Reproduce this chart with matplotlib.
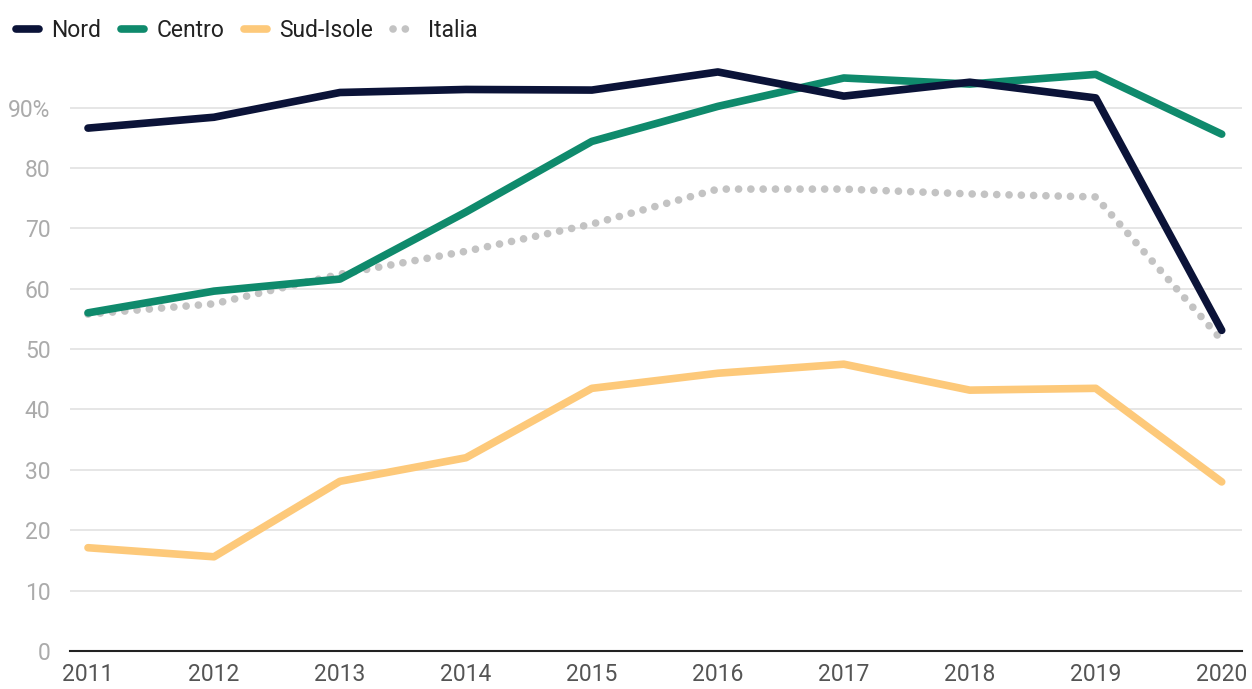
import matplotlib
matplotlib.use("Agg")
import matplotlib.pyplot as plt
from matplotlib.lines import Line2D

plt.rcParams['font.family'] = ['Roboto', 'DejaVu Sans']

years = [2011, 2012, 2013, 2014, 2015, 2016, 2017, 2018, 2019, 2020]
nord = [86.6, 88.4, 92.5, 93.0, 92.9, 95.9, 91.9, 94.2, 91.6, 53.1]
centro = [56.0, 59.6, 61.6, 72.7, 84.4, 90.2, 94.9, 93.9, 95.5, 85.6]
sud = [17.1, 15.6, 28.1, 32.0, 43.5, 46.0, 47.5, 43.2, 43.5, 28.0]
italia = [55.8, 57.5, 62.4, 66.2, 70.7, 76.5, 76.5, 75.7, 75.2, 51.5]
yticks = [0, 10, 20, 30, 40, 50, 60, 70, 80, 90]
ylabels = ['0', '10', '20', '30', '40', '50', '60', '70', '80', '90%']

c_nord = '#0b1338'
c_centro = '#0f8a6c'
c_sud = '#fdc97a'
c_it = '#c3c3c3'
dots = (0, (0.01, 1.6))

fig = plt.figure(figsize=(12.52, 6.89), dpi=100)
ax = fig.add_axes([0.0559, 0.0552, 0.936, 0.850])

ax.plot(years, italia, color=c_it, lw=5.5, linestyle=dots,
        dash_capstyle='round', zorder=2)
ax.plot(years, sud, color=c_sud, lw=5.5, solid_capstyle='round', solid_joinstyle='round', zorder=3)
ax.plot(years, centro, color=c_centro, lw=5.5, solid_capstyle='round', solid_joinstyle='round', zorder=4)
ax.plot(years, nord, color=c_nord, lw=5.5, solid_capstyle='round', solid_joinstyle='round', zorder=5)

ax.set_xlim(2010.857, 2020.16)
ax.set_ylim(0, 97)
ax.set_yticks(yticks)
ax.set_yticklabels(ylabels)
ax.set_xticks(years)
ax.set_xticklabels([str(y) for y in years])

for s in ['top', 'right', 'left']:
    ax.spines[s].set_visible(False)
ax.spines['bottom'].set_color('#222222')
ax.spines['bottom'].set_linewidth(1.5)
ax.grid(axis='y', color='#e2e2e2', lw=1.2, zorder=0)
ax.set_axisbelow(True)
ax.tick_params(axis='y', length=0, labelsize=16.5, labelcolor='#ababab', pad=14)
ax.tick_params(axis='x', length=0, labelsize=16.5, labelcolor='#555555', pad=9)

handles = [
    Line2D([0], [0], color=c_nord, lw=5.5, solid_capstyle='round'),
    Line2D([0], [0], color=c_centro, lw=5.5, solid_capstyle='round'),
    Line2D([0], [0], color=c_sud, lw=5.5, solid_capstyle='round'),
    Line2D([0], [0], color=c_it, lw=5.5, linestyle=dots, dash_capstyle='round'),
]
leg = fig.legend(handles, ['Nord', 'Centro', 'Sud-Isole', 'Italia'], loc='upper left',
                 bbox_to_anchor=(0.0, 0.995), ncol=4, frameon=False, fontsize=16.5,
                 handlelength=1.0, handletextpad=0.55, columnspacing=0.85,
                 borderaxespad=0.3)
for t in leg.get_texts():
    t.set_color('#222222')

fig.savefig('out.png', dpi=100)
